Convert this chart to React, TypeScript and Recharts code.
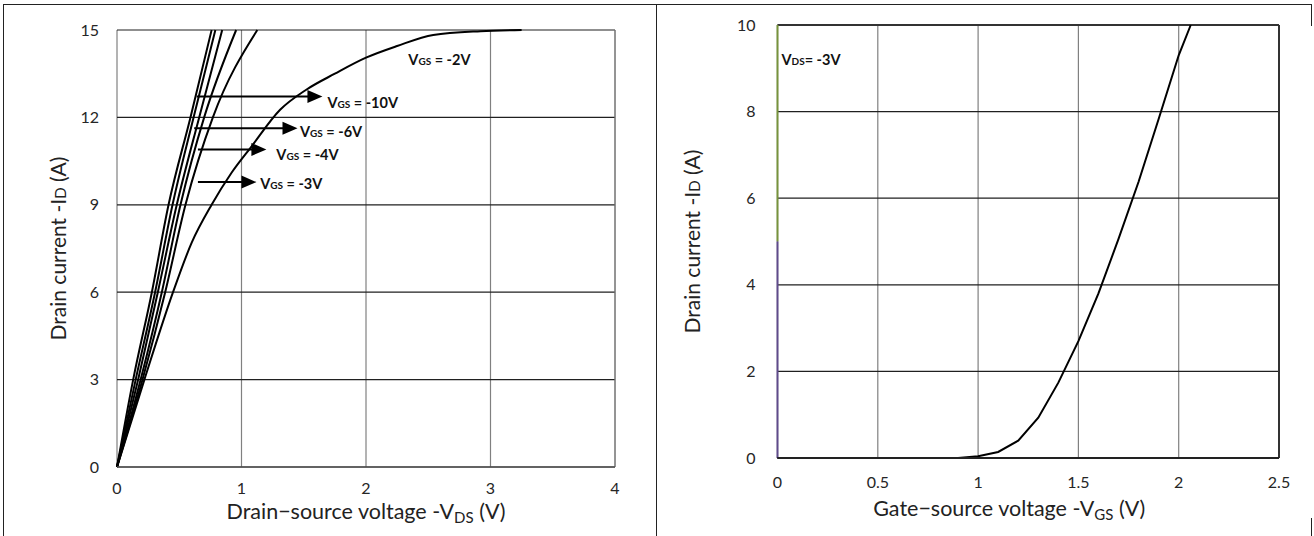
import React from 'react';
import { LineChart, Line, XAxis, YAxis, CartesianGrid, ReferenceLine, ReferenceDot } from 'recharts';

const FONT = 'Lato, "Open Sans", sans-serif';

// output characteristics, points as [-VDS (V), -ID (A)]
const vgs10 = [[0, 0], [0.13, 3], [0.28, 6], [0.414, 9], [0.59, 12], [0.76, 15]];
const vgs8 = [[0, 0], [0.15, 3], [0.306, 6], [0.446, 9], [0.615, 12], [0.79, 15]];
const vgs6 = [[0, 0], [0.17, 3], [0.328, 6], [0.48, 9], [0.66, 12], [0.845, 15]];
const vgs4 = [[0, 0], [0.19, 3], [0.36, 6], [0.51, 9], [0.7, 12], [0.957, 15]];
const vgs3 = [[0, 0], [0.205, 3], [0.387, 6], [0.55, 9], [0.77, 12], [1.127, 15]];
const vgs2 = [
  [0, 0], [0.22, 3], [0.45, 6], [0.6, 7.7], [0.76, 9], [0.92, 10.1], [1.08, 11], [1.31, 12.26],
  [1.52, 12.95], [1.75, 13.5], [2.0, 14.05], [2.25, 14.45], [2.54, 14.83], [2.92, 14.96], [3.25, 15],
];
const outputCurves = [vgs10, vgs8, vgs6, vgs4, vgs3, vgs2];

const vdsTicks = [0, 1, 2, 3, 4];
const idTicksLeft = [0, 3, 6, 9, 12, 15];

// arrow annotations on the output plot
const arrowText = ['-10V', '-6V', '-4V', '-3V'];
const arrowFrom = [0.64, 0.62, 0.65, 0.65];
const arrowTo = [1.65, 1.45, 1.2, 1.12];
const arrowId = [12.72, 11.63, 10.9, 9.78];
const arrowLabelVds = [1.69, 1.47, 1.28, 1.15];
const arrowLabelId = [12.5, 11.5, 10.7, 9.72];

// transfer characteristic
const vgsTransfer = [0, 0.5, 0.9, 1.0, 1.1, 1.2, 1.3, 1.4, 1.5, 1.6, 1.7, 1.8, 1.9, 2.0, 2.06];
const idTransfer = [0, 0, 0, 0.04, 0.14, 0.4, 0.93, 1.74, 2.7, 3.8, 5.06, 6.38, 7.83, 9.3, 10];
const vgsTicks = [0, 0.5, 1, 1.5, 2, 2.5];
const idTicksRight = [0, 2, 4, 6, 8, 10];
// coloured edge series along -VGS = 0
const edgeGreen = [[0, 5], [0, 10]];
const edgePurple = [[0, 0], [0, 5]];

const toPoints = (pts: number[][]) => pts.map(([x, y]) => ({ x, y }));

const tickStyle = { fontFamily: FONT, fontSize: 16, fill: '#262626' };

const Arrow = (p: any) => {
  const { x1, y1, x2, y2 } = p;
  return (
    <g>
      <line x1={x1} y1={y1} x2={x2 - 12} y2={y2} stroke="#000" strokeWidth={2} />
      <polygon points={`${x2},${y2} ${x2 - 15},${y2 - 6.5} ${x2 - 15},${y2 + 6.5}`} fill="#000" />
    </g>
  );
};

const VgsLabel = (text: string, sub: string) => (p: any) => (
  <text x={p.cx} y={p.cy} dy={5} fontFamily={FONT} fontWeight="bold" fill="#111">
    <tspan fontSize={14.5}>V</tspan>
    <tspan fontSize={10}>{sub}</tspan>
    <tspan fontSize={14.5}>{text}</tspan>
  </text>
);

const YLabel = (offsetX: number) => (p: any) => {
  const { x, y, height } = p.viewBox;
  const cx = x + offsetX;
  const cy = y + height / 2;
  return (
    <text x={cx} y={cy} transform={`rotate(-90 ${cx} ${cy})`} textAnchor="middle" dy={7} fontFamily={FONT} fontSize={21} fill="#222">
      <tspan>Drain current -I</tspan>
      <tspan fontSize={15}>D</tspan>
      <tspan> (A)</tspan>
    </text>
  );
};

const XLabel = (main: string, sub: string, offsetX: number, offsetY: number) => (p: any) => {
  const { x, y, width } = p.viewBox;
  const cx = x + width / 2 + offsetX;
  return (
    <text x={cx} y={y + offsetY} textAnchor="middle" dy={7} fontFamily={FONT} fontSize={21.5} fill="#222">
      <tspan>{main}</tspan>
      <tspan fontSize={15} dy={4}>{sub}</tspan>
      <tspan dy={-4}> (V)</tspan>
    </text>
  );
};

function OutputChart() {
  return (
    <LineChart width={657} height={536} margin={{ top: 30, right: 42, bottom: 0, left: 0 }}>
      <CartesianGrid horizontal={false} stroke="#808080" strokeWidth={1.2} />
      <CartesianGrid vertical={false} stroke="#202020" strokeWidth={1.2} />
      <XAxis
        type="number"
        dataKey="x"
        domain={[0, 4]}
        ticks={vdsTicks}
        height={69}
        tickSize={0}
        tickMargin={16}
        tick={tickStyle}
        axisLine={{ stroke: '#555', strokeWidth: 1.5 }}
        label={{ content: XLabel('Drain\u2212source voltage -V', 'DS', 0, 45) }}
      />
      <YAxis
        type="number"
        dataKey="y"
        domain={[0, 15]}
        ticks={idTicksLeft}
        width={117}
        tickSize={0}
        tickMargin={18}
        tick={tickStyle}
        axisLine={false}
        label={{ content: YLabel(59) }}
      />
      <ReferenceLine x={4} stroke="#808080" strokeWidth={1.2} />
      {outputCurves.map((c, i) => (
        <Line
          key={i}
          data={toPoints(c)}
          dataKey="y"
          type="monotone"
          stroke="#000"
          strokeWidth={2}
          dot={false}
          isAnimationActive={false}
        />
      ))}
      {arrowText.map((t, i) => (
        <ReferenceLine
          key={`a${i}`}
          segment={[{ x: arrowFrom[i], y: arrowId[i] }, { x: arrowTo[i], y: arrowId[i] }]}
          shape={Arrow}
        />
      ))}
      {arrowText.map((t, i) => (
        <ReferenceDot key={`l${i}`} x={arrowLabelVds[i]} y={arrowLabelId[i]} r={0} shape={VgsLabel(` = ${t}`, 'GS')} />
      ))}
      <ReferenceDot x={2.34} y={13.97} r={0} shape={VgsLabel(' = -2V', 'GS')} />
    </LineChart>
  );
}

function TransferChart() {
  const data = vgsTransfer.map((x, i) => ({ x, y: idTransfer[i] }));
  return (
    <LineChart width={654} height={536} margin={{ top: 25, right: 35, bottom: 0, left: 0 }}>
      <CartesianGrid horizontal={false} stroke="#808080" strokeWidth={1.2} />
      <CartesianGrid vertical={false} stroke="#202020" strokeWidth={1.2} />
      <XAxis
        type="number"
        dataKey="x"
        domain={[0, 2.5]}
        ticks={vgsTicks}
        height={78}
        tickSize={0}
        tickMargin={19}
        tick={tickStyle}
        axisLine={{ stroke: '#222', strokeWidth: 2 }}
        label={{ content: XLabel('Gate\u2212source voltage -V', 'GS', -19, 51) }}
      />
      <YAxis
        type="number"
        dataKey="y"
        domain={[0, 10]}
        ticks={idTicksRight}
        width={117.5}
        tickSize={0}
        tickMargin={22}
        tick={tickStyle}
        axisLine={false}
        label={{ content: YLabel(33) }}
      />
      <ReferenceLine y={10} stroke="#333" strokeWidth={2} />
      <ReferenceLine x={2.5} stroke="#333" strokeWidth={2} />
      <Line data={toPoints(edgeGreen)} dataKey="y" stroke="#77933c" strokeWidth={2} dot={false} isAnimationActive={false} />
      <Line data={toPoints(edgePurple)} dataKey="y" stroke="#5f4b8b" strokeWidth={2} dot={false} isAnimationActive={false} />
      <Line data={data} dataKey="y" type="linear" stroke="#000" strokeWidth={2} dot={false} isAnimationActive={false} />
      <ReferenceDot x={0.02} y={9.2} r={0} shape={VgsLabel('= -3V', 'DS')} />
    </LineChart>
  );
}

export default function App() {
  return (
    <div style={{ position: 'absolute', left: 0, top: 0, width: 1314, height: 536, background: '#fff', overflow: 'hidden' }}>
      <div style={{ position: 'absolute', left: 3, top: 4, width: 1309, height: 0, borderTop: '1.5px solid #222' }} />
      <div style={{ position: 'absolute', left: 3, top: 4, width: 0, height: 532, borderLeft: '1.5px solid #222' }} />
      <div style={{ position: 'absolute', left: 656, top: 4, width: 0, height: 532, borderLeft: '1.5px solid #222' }} />
      <div style={{ position: 'absolute', left: 1311, top: 4, width: 0, height: 22, borderLeft: '1.5px solid #222' }} />
      <div style={{ position: 'absolute', left: 1311, top: 518, width: 0, height: 18, borderLeft: '1.5px solid #222' }} />
      <div style={{ position: 'absolute', left: 0, top: 0 }}>
        <OutputChart />
      </div>
      <div style={{ position: 'absolute', left: 660, top: 0 }}>
        <TransferChart />
      </div>
    </div>
  );
}
